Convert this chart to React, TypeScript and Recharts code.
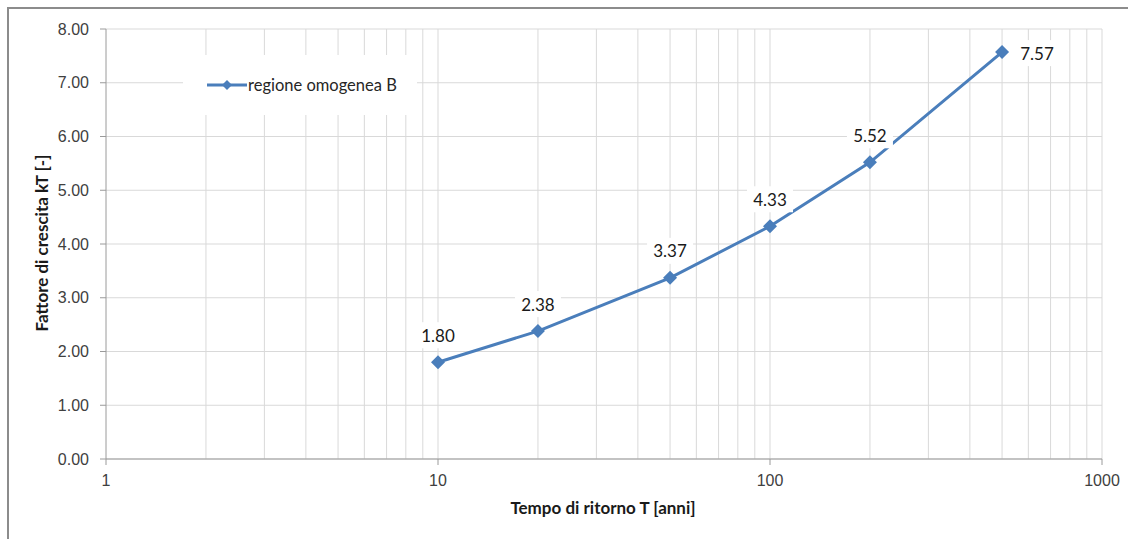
import { LineChart, Line, XAxis, YAxis, CartesianGrid, ReferenceLine, LabelList } from "recharts";

const RETURN_PERIODS = [10, 20, 50, 100, 200, 500];
const KT_VALUES = [1.8, 2.38, 3.37, 4.33, 5.52, 7.57];
const X_TICKS = [1, 10, 100, 1000];
const X_GRID = [2, 3, 4, 5, 6, 7, 8, 9, 10, 20, 30, 40, 50, 60, 70, 80, 90, 100, 200, 300, 400, 500, 600, 700, 800, 900, 1000];
const Y_TICKS = [0, 1, 2, 3, 4, 5, 6, 7, 8];
const SERIES_NAME = "regione omogenea B";

const LINE_COLOR = "#4a7ebb";
const GRID_COLOR = "#d9d9d9";
const AXIS_COLOR = "#9a9a9a";
const TEXT_COLOR = "#404040";
const LABEL_FONT = "Lato, 'Open Sans', sans-serif";
const TICK_FONT = "'Liberation Sans', Arial, sans-serif";

const data = RETURN_PERIODS.map((t, i) => ({ t, kt: KT_VALUES[i] }));

function Diamond(props: any) {
  const { cx, cy } = props;
  if (cx == null || cy == null) return null;
  const r = 7;
  return (
    <polygon
      points={`${cx},${cy - r} ${cx + r},${cy} ${cx},${cy + r} ${cx - r},${cy}`}
      fill={LINE_COLOR}
    />
  );
}

function ValueLabel(props: any) {
  const { x, y, value, index } = props;
  const last = index === RETURN_PERIODS.length - 1;
  const cx = last ? x + 35 : x;
  const cy = last ? y + 1 : y - 27;
  const w = 46;
  const h = 26;
  return (
    <g>
      <rect x={cx - w / 2} y={cy - h / 2} width={w} height={h} fill="#ffffff" />
      <text
        x={cx}
        y={cy}
        textAnchor="middle"
        dominantBaseline="central"
        fontFamily={LABEL_FONT}
        fontSize={17}
        fill="#1a1a1a"
      >
        {Number(value).toFixed(2)}
      </text>
    </g>
  );
}

export default function App() {
  return (
    <div
      style={{
        position: "fixed",
        left: 7,
        top: 7,
        width: 1121,
        height: 532,
        borderLeft: "2px solid #8c8c8c",
        borderTop: "2px solid #8c8c8c",
        boxSizing: "border-box",
        overflow: "hidden",
        background: "#ffffff",
      }}
    >
      <style>{"html,body{overflow:hidden}"}</style>
      <div style={{ position: "absolute", left: -1, top: -1 }}>
        <LineChart
          width={1121}
          height={532}
          data={data}
          margin={{ top: 21, right: 27, bottom: 46, left: 38 }}
        >
          <CartesianGrid stroke={GRID_COLOR} vertical={false} />
          {X_GRID.map((v) => (
            <ReferenceLine key={v} x={v} stroke={GRID_COLOR} strokeWidth={1} />
          ))}
          <XAxis
            dataKey="t"
            type="number"
            scale="log"
            domain={[1, 1000]}
            ticks={X_TICKS}
            allowDataOverflow
            stroke={AXIS_COLOR}
            tickSize={6}
            tickMargin={10}
            height={35}
            tick={{ fill: TEXT_COLOR, fontSize: 16, fontFamily: TICK_FONT }}
          />
          <YAxis
            type="number"
            domain={[0, 8]}
            ticks={Y_TICKS}
            tickFormatter={(v: number) => v.toFixed(2)}
            stroke={AXIS_COLOR}
            tickSize={6}
            tickMargin={11}
            width={60}
            tick={{ fill: TEXT_COLOR, fontSize: 16, fontFamily: TICK_FONT }}
          />
          <Line
            dataKey="kt"
            stroke={LINE_COLOR}
            strokeWidth={3}
            dot={<Diamond />}
            activeDot={false}
            isAnimationActive={false}
            name={SERIES_NAME}
          >
            <LabelList dataKey="kt" content={<ValueLabel />} />
          </Line>
        </LineChart>
      </div>

      {/* legend box */}
      <div
        style={{
          position: "absolute",
          left: 174,
          top: 46,
          width: 234,
          height: 60,
          background: "#ffffff",
          display: "flex",
          alignItems: "center",
        }}
      >
        <svg width={41} height={14} style={{ marginLeft: 24 }}>
          <line x1={0} y1={7} x2={40} y2={7} stroke={LINE_COLOR} strokeWidth={3} />
          <polygon points="20,2 25,7 20,12 15,7" fill={LINE_COLOR} />
        </svg>
        <span
          style={{
            fontFamily: LABEL_FONT,
            fontSize: 16.5,
            color: "#262626",
            lineHeight: "20px",
          }}
        >
          {SERIES_NAME}
        </span>
      </div>

      {/* axis titles */}
      <div
        style={{
          position: "absolute",
          left: 394,
          top: 489,
          width: 400,
          lineHeight: "20px",
          textAlign: "center",
          fontFamily: LABEL_FONT,
          fontWeight: 700,
          fontSize: 17,
          color: "#1a1a1a",
        }}
      >
        Tempo di ritorno T [anni]
      </div>
      <div
        style={{
          position: "absolute",
          left: -167,
          top: 224,
          width: 400,
          lineHeight: "20px",
          textAlign: "center",
          transform: "rotate(-90deg)",
          fontFamily: LABEL_FONT,
          fontWeight: 700,
          fontSize: 17,
          color: "#1a1a1a",
        }}
      >
        Fattore di crescita kT [-]
      </div>
    </div>
  );
}
